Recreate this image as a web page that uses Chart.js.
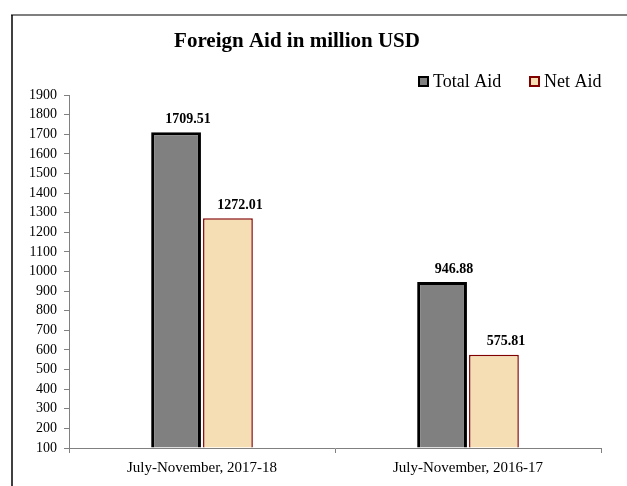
<!DOCTYPE html>
<html>
<head>
<meta charset="utf-8">
<script src="https://cdn.jsdelivr.net/npm/chart.js@4.4.0/dist/chart.umd.min.js"></script>
<style>
  html, body { margin: 0; padding: 0; background: #fff; }
  #wrap { width: 627px; height: 486px; }
</style>
</head>
<body>
<div id="wrap"><canvas id="aidChart"></canvas></div>
<script>
var periods = ['July-November, 2017-18', 'July-November, 2016-17'];
var totalAid = [1709.51, 946.88];
var netAid = [1272.01, 575.81];
var seriesNames = ['Total Aid', 'Net Aid'];
var chartTitle = 'Foreign Aid in million USD';

var serif = '"Liberation Serif", "Times New Roman", serif';

// frame, title, legend and value labels drawn on top of the chart
var decorations = {
    id: 'decorations',
    beforeDraw: function (chart) {
        var ctx = chart.ctx;
        ctx.save();
        ctx.fillStyle = '#fff';
        ctx.fillRect(0, 0, chart.width, chart.height);
        ctx.strokeStyle = '#7f7f7f';
        ctx.lineWidth = 2;
        ctx.beginPath();
        ctx.moveTo(11, 15);
        ctx.lineTo(chart.width, 15);
        ctx.stroke();
        ctx.strokeStyle = '#000';
        ctx.lineWidth = 1.5;
        ctx.beginPath();
        ctx.moveTo(12, 15);
        ctx.lineTo(12, chart.height);
        ctx.stroke();
        ctx.restore();
    },
    afterDraw: function (chart) {
        var ctx = chart.ctx;
        ctx.save();
        // title
        ctx.fillStyle = '#000';
        ctx.font = 'bold 21px ' + serif;
        ctx.textAlign = 'center';
        ctx.textBaseline = 'middle';
        ctx.fillText(chartTitle, 297, 42);

        // legend
        ctx.font = '18px ' + serif;
        ctx.textAlign = 'left';
        var lx = [418, 529];
        chart.data.datasets.forEach(function (ds, i) {
            ctx.fillStyle = ds.backgroundColor;
            ctx.fillRect(lx[i], 76, 11, 11);
            ctx.strokeStyle = ds.borderColor;
            ctx.lineWidth = 2;
            ctx.strokeRect(lx[i] + 1, 77, 9, 9);
            ctx.fillStyle = '#000';
            ctx.fillText(ds.label, lx[i] + 15, 82);
        });

        // value labels
        ctx.font = 'bold 14px ' + serif;
        ctx.textAlign = 'center';
        chart.data.datasets.forEach(function (ds, i) {
            chart.getDatasetMeta(i).data.forEach(function (bar, j) {
                ctx.fillText(ds.data[j].toFixed(2), bar.x + 12, bar.y - 13);
            });
        });
        ctx.restore();
    }
};

new Chart(document.getElementById('aidChart'), {
    type: 'bar',
    data: {
        labels: periods,
        datasets: [{
            label: seriesNames[0],
            data: totalAid,
            backgroundColor: '#808080',
            borderColor: '#000000',
            borderWidth: 3,
            base: 100
        }, {
            label: seriesNames[1],
            data: netAid,
            backgroundColor: '#F5DEB3',
            borderColor: '#800000',
            borderWidth: 1.5,
            base: 100
        }]
    },
    options: {
        responsive: true,
        maintainAspectRatio: false,
        animation: false,
        categoryPercentage: 0.39,
        barPercentage: 0.96,
        layout: { padding: { top: 95, right: 26, left: 0, bottom: 0 } },
        plugins: {
            legend: { display: false },
            title: { display: false },
            tooltip: { enabled: false }
        },
        scales: {
            x: {
                afterFit: function (scale) { scale.height = 38; },
                grid: { drawOnChartArea: false, tickLength: 5, color: '#808080', offset: true },
                border: { color: '#808080', width: 1 },
                ticks: { color: '#000', padding: 6, font: { family: serif, size: 15 } }
            },
            y: {
                min: 100,
                max: 1900,
                afterFit: function (scale) { scale.width = 69; },
                grid: { drawOnChartArea: false, tickLength: 5, color: '#808080' },
                border: { color: '#808080', width: 1 },
                ticks: {
                    stepSize: 100,
                    autoSkip: false,
                    color: '#000',
                    padding: 7,
                    font: { family: serif, size: 14 },
                    callback: function (v) { return String(v); }
                }
            }
        }
    },
    plugins: [decorations]
});
</script>
</body>
</html>
